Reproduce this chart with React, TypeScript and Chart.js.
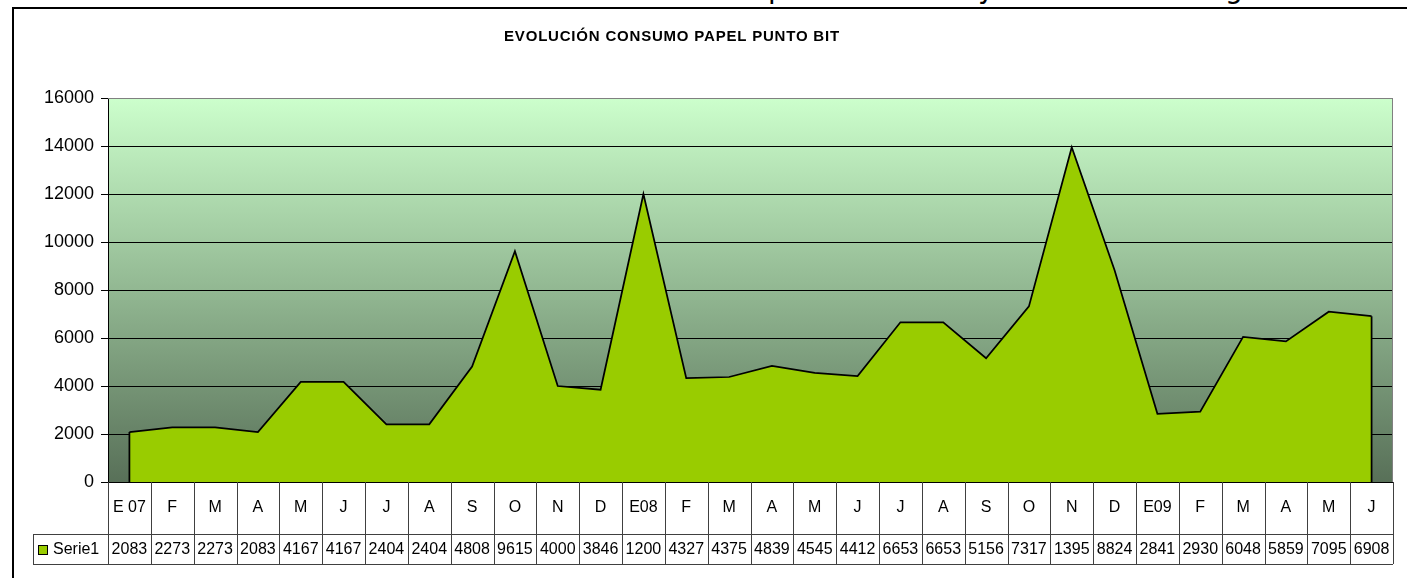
import React, { useEffect, useRef } from 'react';
import { Chart, registerables } from 'chart.js';

Chart.register(...registerables);

const chartTitle = 'EVOLUCIÓN CONSUMO PAPEL PUNTO BIT';
const seriesName = 'Serie1';
const categories = ['E 07', 'F', 'M', 'A', 'M', 'J', 'J', 'A', 'S', 'O', 'N', 'D', 'E08', 'F', 'M', 'A', 'M', 'J', 'J', 'A', 'S', 'O', 'N', 'D', 'E09', 'F', 'M', 'A', 'M', 'J'];
const serie1 = [2083, 2273, 2273, 2083, 4167, 4167, 2404, 2404, 4808, 9615, 4000, 3846, 12000, 4327, 4375, 4839, 4545, 4412, 6653, 6653, 5156, 7317, 13950, 8824, 2841, 2930, 6048, 5859, 7095, 6908];
const yMin = 0;
const yMax = 16000;
const yStep = 2000;
const clippedLetters = [
  { ch: 'p', x: 768 },
  { ch: 'y', x: 978 },
  { ch: 'g', x: 1225 },
];

const FONT = '"Liberation Sans", Arial, sans-serif';
const AREA_COLOR = '#99CC00';
const LINE_COLOR = '#404040';

const decorPlugin = {
  id: 'decor',
  beforeDraw(chart: any) {
    const { ctx, chartArea } = chart;
    ctx.save();
    ctx.strokeStyle = '#000';
    ctx.lineWidth = 2;
    ctx.beginPath();
    ctx.moveTo(13, 600);
    ctx.lineTo(13, 8);
    ctx.lineTo(1420, 8);
    ctx.stroke();
    const g = ctx.createLinearGradient(0, chartArea.top, 0, chartArea.bottom);
    g.addColorStop(0, '#CCFFCC');
    g.addColorStop(1, '#587058');
    ctx.fillStyle = g;
    ctx.fillRect(chartArea.left, chartArea.top, chartArea.right - chartArea.left, chartArea.bottom - chartArea.top);
    ctx.fillStyle = '#000';
    ctx.font = `bold 15px ${FONT}`;
    (ctx as any).letterSpacing = '0.8px';
    ctx.textAlign = 'center';
    ctx.textBaseline = 'middle';
    ctx.fillText(chartTitle, 672, 37);
    (ctx as any).letterSpacing = '0px';
    ctx.restore();
  },
  afterDatasetsDraw(chart: any) {
    const { ctx, chartArea } = chart;
    const meta = chart.getDatasetMeta(0);
    const y0 = chart.scales.y.getPixelForValue(0);
    const pts = meta.data;
    ctx.save();
    ctx.strokeStyle = '#000';
    ctx.lineWidth = 1.75;
    ctx.beginPath();
    const first = pts[0];
    const last = pts[pts.length - 1];
    ctx.moveTo(first.x, first.y);
    ctx.lineTo(first.x, y0);
    ctx.moveTo(last.x, last.y);
    ctx.lineTo(last.x, y0);
    ctx.stroke();
    ctx.strokeStyle = '#808080';
    ctx.lineWidth = 1;
    ctx.beginPath();
    ctx.moveTo(chartArea.left, chartArea.top + 0.5);
    ctx.lineTo(chartArea.right - 0.5, chartArea.top + 0.5);
    ctx.lineTo(chartArea.right - 0.5, chartArea.bottom);
    ctx.stroke();
    ctx.strokeStyle = '#000';
    ctx.beginPath();
    ctx.moveTo(chartArea.left, Math.round(y0) + 0.5);
    ctx.lineTo(chartArea.right, Math.round(y0) + 0.5);
    ctx.stroke();
    ctx.restore();
  },
  afterDraw(chart: any) {
    const { ctx, chartArea } = chart;
    const n = categories.length;
    const left = chartArea.left;
    const right = chartArea.right;
    const colW = (right - left) / n;
    const top = chartArea.bottom;
    const mid = 534;
    const bottom = 564;
    const legendLeft = 33;
    ctx.save();
    ctx.strokeStyle = LINE_COLOR;
    ctx.lineWidth = 1;
    ctx.beginPath();
    for (let i = 0; i <= n; i++) {
      const x = Math.round(left + i * colW) + 0.5;
      ctx.moveTo(x, top);
      ctx.lineTo(x, bottom);
    }
    ctx.moveTo(legendLeft, mid + 0.5);
    ctx.lineTo(right, mid + 0.5);
    ctx.moveTo(legendLeft, bottom + 0.5);
    ctx.lineTo(right, bottom + 0.5);
    ctx.moveTo(legendLeft + 0.5, mid);
    ctx.lineTo(legendLeft + 0.5, bottom);
    ctx.stroke();

    ctx.fillStyle = '#000';
    ctx.font = `16px ${FONT}`;
    ctx.textAlign = 'center';
    ctx.textBaseline = 'middle';
    for (let i = 0; i < n; i++) {
      const cx = left + (i + 0.5) * colW;
      ctx.fillText(categories[i], cx, 508);
      let s = String(serie1[i]);
      while (s.length > 1 && ctx.measureText(s).width > colW - 2) s = s.slice(0, -1);
      ctx.fillText(s, cx, 550);
    }
    ctx.fillStyle = AREA_COLOR;
    ctx.fillRect(38.5, 545.5, 9, 9);
    ctx.strokeStyle = '#000';
    ctx.strokeRect(38.5, 545.5, 9, 9);
    ctx.fillStyle = '#000';
    ctx.textAlign = 'left';
    ctx.fillText(seriesName, 53, 550);
    ctx.restore();
  },
};

export default function App() {
  const canvasRef = useRef<HTMLCanvasElement | null>(null);

  useEffect(() => {
    const canvas = canvasRef.current;
    if (!canvas) return;
    const chart = new Chart(canvas, {
      type: 'line',
      data: {
        labels: categories,
        datasets: [
          {
            label: seriesName,
            data: serie1,
            fill: 'origin',
            backgroundColor: AREA_COLOR,
            borderColor: '#000',
            borderWidth: 1.75,
            pointRadius: 0,
            tension: 0,
          },
        ],
      },
      options: {
        animation: false,
        responsive: false,
        devicePixelRatio: 1,
        layout: { padding: { top: 98, right: 14, bottom: 0, left: 0 } },
        plugins: {
          legend: { display: false },
          title: { display: false },
          tooltip: { enabled: false },
        },
        scales: {
          x: {
            type: 'category',
            offset: true,
            grid: { display: false },
            border: { display: false },
            ticks: { display: false },
            afterFit: (scale: any) => {
              scale.height = 96;
            },
          },
          y: {
            min: yMin,
            max: yMax,
            ticks: {
              stepSize: yStep,
              color: '#000',
              font: { family: FONT, size: 18 },
              padding: 7,
              callback: (v: any) => String(v),
            },
            grid: {
              color: (c: any) => (c.tick && c.tick.value === yMax ? '#808080' : '#000'),
              tickLength: 7,
              tickColor: '#000',
            },
            border: { display: true, color: '#000', width: 1 },
            afterFit: (scale: any) => {
              scale.width = 108;
            },
          },
        },
      },
      plugins: [decorPlugin],
    });
    return () => chart.destroy();
  }, []);

  return (
    <div style={{ position: 'absolute', left: 0, top: 0, width: 1407, height: 578, overflow: 'hidden', background: '#fff' }}>
      {clippedLetters.map((l, i) => (
        <span
          key={i}
          style={{ position: 'absolute', left: l.x, top: -25, fontFamily: '"DejaVu Sans", sans-serif', fontSize: 28, lineHeight: '28px', color: '#000' }}
        >
          {l.ch}
        </span>
      ))}
      <canvas ref={canvasRef} width={1407} height={578} style={{ position: 'absolute', left: 0, top: 0, width: 1407, height: 578 }} />
    </div>
  );
}
